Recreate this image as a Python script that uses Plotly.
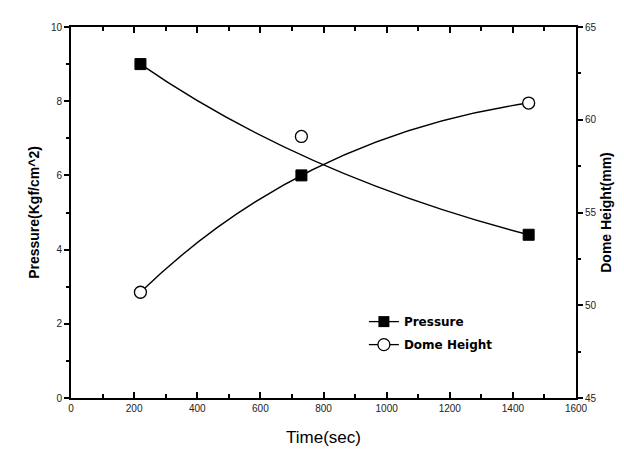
import plotly.graph_objects as go

# Data
time_sec = [220, 730, 1450]
pressure = [9.0, 6.0, 4.4]          # Kgf/cm^2 (left axis)
dome_height = [50.7, 59.1, 60.9]    # mm (right axis)

x_ticks = [0, 200, 400, 600, 800, 1000, 1200, 1400, 1600]
y_ticks = [0, 2, 4, 6, 8, 10]
y2_ticks = [45, 50, 55, 60, 65]


def bspline_path(xs, ys):
    # quadratic B-spline (Bezier) with the data points as control points
    return f"M {xs[0]},{ys[0]} Q {xs[1]},{ys[1]} {xs[2]},{ys[2]}"


fig = go.Figure()

fig.add_trace(go.Scatter(
    x=time_sec, y=pressure, mode="markers", showlegend=False,
    marker=dict(symbol="square", size=11, color="black", line=dict(color="black", width=1)),
))
fig.add_trace(go.Scatter(
    x=time_sec, y=dome_height, mode="markers", showlegend=False, yaxis="y2",
    marker=dict(symbol="circle", size=12, color="white", line=dict(color="black", width=1.3)),
))

# legend entries
fig.add_trace(go.Scatter(
    x=[None], y=[None], mode="lines+markers", name="Pressure", legendgroup="p",
    line=dict(color="black", width=1.3),
    marker=dict(symbol="square", size=11, color="black"),
))
fig.add_trace(go.Scatter(
    x=[None], y=[None], mode="lines+markers", name="Dome Height", yaxis="y2", legendgroup="d",
    line=dict(color="black", width=1.3),
    marker=dict(symbol="circle", size=12, color="white", line=dict(color="black", width=1.3)),
))

fig.add_shape(type="path", path=bspline_path(time_sec, pressure), xref="x", yref="y",
              line=dict(color="black", width=1.4), layer="below")
fig.add_shape(type="path", path=bspline_path(time_sec, dome_height), xref="x", yref="y2",
              line=dict(color="black", width=1.4), layer="below")

tick_font = dict(family="Arial, Liberation Sans", size=10, color="#222222")

fig.update_layout(
    width=624, height=459,
    margin=dict(l=63, r=56, t=19, b=69),
    paper_bgcolor="white", plot_bgcolor="white",
    font=dict(family="Arial, Liberation Sans", color="black"),
    xaxis=dict(
        range=[0, 1600], tickvals=x_ticks, ticktext=[str(v) for v in x_ticks],
        showgrid=False, zeroline=False, showline=True, linecolor="black", linewidth=2,
        ticks="inside", ticklen=6, tickwidth=1.5, tickcolor="black", mirror="ticks",
        minor=dict(dtick=100, ticks="inside", ticklen=4, tickcolor="black"),
        tickfont=tick_font,
        title=dict(text="Time(sec)", font=dict(size=17, family="Arial, Liberation Sans"), standoff=18),
    ),
    yaxis=dict(
        range=[0, 10], tickvals=y_ticks, ticktext=[str(v) for v in y_ticks],
        showgrid=False, zeroline=False, showline=True, linecolor="black", linewidth=2,
        ticks="outside", ticklen=5, tickwidth=1.5, tickcolor="black",
        minor=dict(dtick=1, ticks="outside", ticklen=3, tickcolor="black"),
        tickfont=tick_font,
        title=dict(text="<b>Pressure(Kgf/cm^2)</b>", font=dict(size=14), standoff=8),
    ),
    yaxis2=dict(
        range=[45, 65], tickvals=y2_ticks, ticktext=[str(v) for v in y2_ticks],
        overlaying="y", side="right",
        showgrid=False, zeroline=False, showline=True, linecolor="black", linewidth=2,
        ticks="outside", ticklen=5, tickwidth=1.5, tickcolor="black",
        minor=dict(dtick=2.5, ticks="outside", ticklen=3, tickcolor="black"),
        tickfont=tick_font,
        title=dict(text="<b>Dome Height(mm)</b>", font=dict(size=14), standoff=6),
    ),
    legend=dict(
        x=0.58, y=0.245, xanchor="left", yanchor="top",
        bgcolor="rgba(0,0,0,0)", borderwidth=0,
        font=dict(size=12, family="DejaVu Sans", weight="bold"),
        itemwidth=30, tracegroupgap=4,
    ),
)

fig.write_html("out.html")
